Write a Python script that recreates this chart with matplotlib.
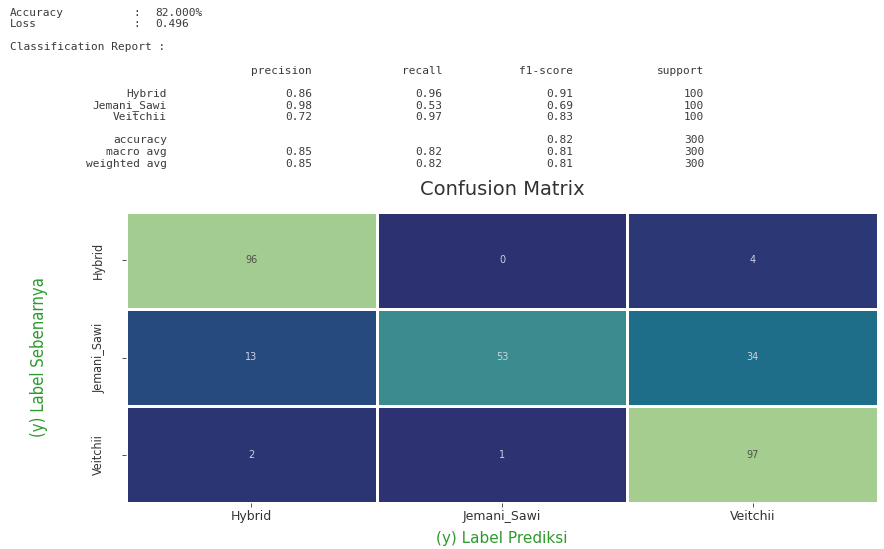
import numpy as np
import matplotlib
matplotlib.use("Agg")
import matplotlib.pyplot as plt
import seaborn as sns

# hasil evaluasi model
accuracy = 82.000
loss = 0.496
classes = ["Hybrid", "Jemani_Sawi", "Veitchii"]
report_rows = ["Hybrid", "Jemani_Sawi", "Veitchii"]
precision = [0.86, 0.98, 0.72]
recall = [0.96, 0.53, 0.97]
f1 = [0.91, 0.69, 0.83]
support = [100, 100, 100]
avg_rows = ["macro avg", "weighted avg"]
avg_precision = [0.85, 0.85]
avg_recall = [0.82, 0.82]
avg_f1 = [0.81, 0.81]
total_support = 300
acc_f1 = 0.82

cm = [[96, 0, 4],
      [13, 53, 34],
      [2, 1, 97]]

W, H = 884, 549
fig = plt.figure(figsize=(W / 100, H / 100), dpi=100)

mono = dict(family="DejaVu Sans Mono", fontsize=8, color="#3a3a3a", va="center")


def put(x, y, s, ha="left"):
    fig.text(x / W, 1 - y / H, s, ha=ha, **mono)


# teks laporan di atas heatmap
put(10, 12.5, "Accuracy")
put(133, 12.5, ":")
put(155, 12.5, f"{accuracy:.3f}%")
put(10, 24, "Loss")
put(133, 24, ":")
put(155, 24, f"{loss:.3f}")
put(10, 47, "Classification Report :")

col_x = [312, 442, 573, 704]
for x, h in zip(col_x, ["precision", "recall", "f1-score", "support"]):
    put(x, 71, h, ha="right")

row_y = [94, 106, 117]
for y, name, p, r, f, s in zip(row_y, report_rows, precision, recall, f1, support):
    put(167, y, name, ha="right")
    put(col_x[0], y, f"{p:.2f}", ha="right")
    put(col_x[1], y, f"{r:.2f}", ha="right")
    put(col_x[2], y, f"{f:.2f}", ha="right")
    put(col_x[3], y, f"{s}", ha="right")

put(167, 140, "accuracy", ha="right")
put(col_x[2], 140, f"{acc_f1:.2f}", ha="right")
put(col_x[3], 140, f"{total_support}", ha="right")
for y, name, p, r, f in zip([152, 164], avg_rows, avg_precision, avg_recall, avg_f1):
    put(167, y, name, ha="right")
    put(col_x[0], y, f"{p:.2f}", ha="right")
    put(col_x[1], y, f"{r:.2f}", ha="right")
    put(col_x[2], y, f"{f:.2f}", ha="right")
    put(col_x[3], y, f"{total_support}", ha="right")

# heatmap confusion matrix
ax = fig.add_axes([126 / W, 1 - 503 / H, (878 - 126) / W, (503 - 212) / H])
sns.heatmap(np.array(cm), annot=True, fmt="d", cmap="crest_r", cbar=False,
            linewidths=2, linecolor="white", xticklabels=classes, yticklabels=classes,
            annot_kws={"size": 7}, ax=ax)

for t in ax.texts:
    c = matplotlib.colors.to_hex(t.get_color())
    t.set_color("#d0d0e0" if c == "#ffffff" else "#505050")

ax.set_title("Confusion Matrix", fontsize=14, color="#333333", pad=12)
ax.set_xlabel("(y) Label Prediksi", fontsize=11, color="#2e9a2e", labelpad=6)
ax.set_ylabel("(y) Label Sebenarnya", fontsize=12, color="#2e9a2e", labelpad=32,
              fontstretch="condensed")
ax.tick_params(axis="x", labelsize=9, colors="#333333", length=3, width=0.6, pad=2)
ax.tick_params(axis="y", labelsize=9, colors="#333333", length=3, width=0.6, pad=12)
for lbl in ax.get_yticklabels():
    lbl.set_rotation(90)
    lbl.set_va("center")
    lbl.set_fontstretch("condensed")

fig.savefig("out.png", dpi=100)
